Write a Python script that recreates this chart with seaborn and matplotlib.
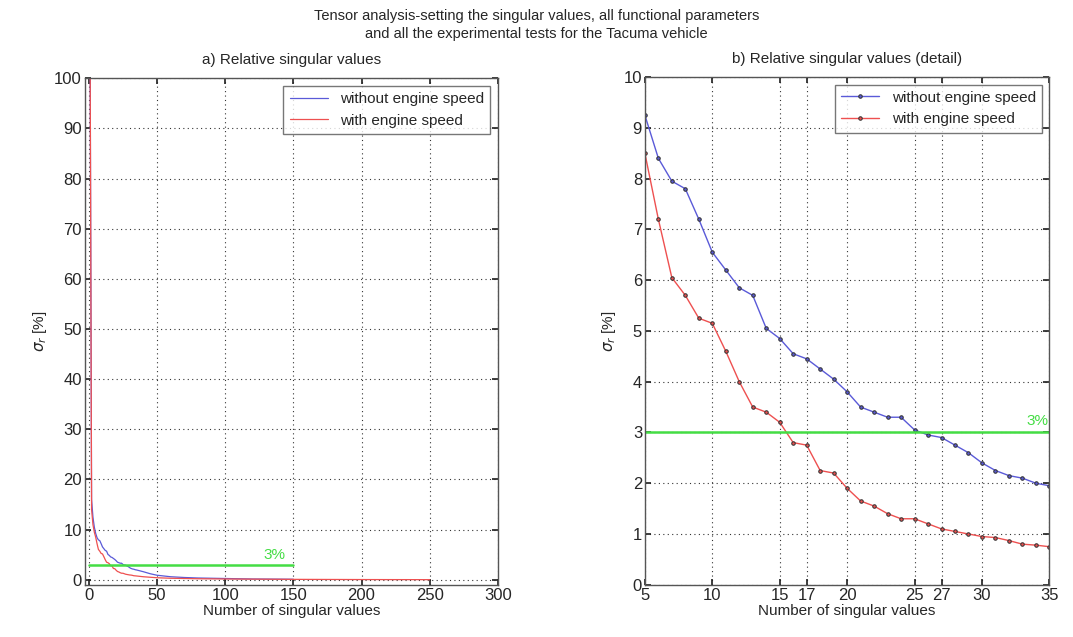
import numpy as np
import pandas as pd
import matplotlib
matplotlib.use("Agg")
import matplotlib.pyplot as plt
import seaborn as sns

# singular value index (detail range)
idx_detail = list(range(5, 36))

# relative singular values [%]
without_speed = [9.25, 8.4, 7.95, 7.8, 7.2, 6.55, 6.2, 5.85, 5.7, 5.05,
                 4.85, 4.55, 4.45, 4.25, 4.05, 3.8, 3.5, 3.4, 3.3, 3.3,
                 3.05, 2.95, 2.9, 2.75, 2.6, 2.4, 2.25, 2.15, 2.1, 2.0, 1.95]
with_speed = [8.5, 7.2, 6.05, 5.7, 5.25, 5.15, 4.6, 4.0, 3.5, 3.4,
              3.2, 2.8, 2.75, 2.25, 2.2, 1.9, 1.65, 1.55, 1.4, 1.3,
              1.3, 1.2, 1.1, 1.05, 1.0, 0.95, 0.93, 0.87, 0.8, 0.78, 0.75]

# head and tail of the full curves (panel a)
head_idx = [1, 2, 3, 4]
without_head = [100, 16.0, 12.5, 10.5]
with_head = [100, 14.0, 11.0, 9.5]
without_tail_idx = [40, 45, 50, 60, 70, 80, 100, 120, 150]
without_tail = [1.6, 1.2, 0.9, 0.6, 0.45, 0.35, 0.25, 0.15, 0.1]
with_tail_idx = [40, 50, 60, 80, 100, 150, 200, 250]
with_tail = [0.6, 0.4, 0.3, 0.2, 0.15, 0.08, 0.04, 0.02]

threshold = 3
detail_ticks = [5, 10, 15, 17, 20, 25, 27, 30, 35]

full_without = pd.DataFrame({
    "n": head_idx + idx_detail + without_tail_idx,
    "sigma": without_head + without_speed + without_tail,
})
full_with = pd.DataFrame({
    "n": head_idx + idx_detail + with_tail_idx,
    "sigma": with_head + with_speed + with_tail,
})
detail = pd.DataFrame({
    "n": idx_detail * 2,
    "sigma": without_speed + with_speed,
    "case": ["without engine speed"] * len(idx_detail)
    + ["with engine speed"] * len(idx_detail),
})

sns.set_theme(style="ticks")
plt.rcParams["font.family"] = ["Liberation Sans", "DejaVu Sans"]

blue = "#5a5ad8"
red = "#ee5050"
green = "#44dd44"

fig = plt.figure(figsize=(10.73, 6.37), dpi=100)
ax1 = fig.add_axes([0.079, 0.082, 0.385, 0.795])
ax2 = fig.add_axes([0.601, 0.082, 0.377, 0.797])

fig.text(0.5, 0.975, "Tensor analysis-setting the singular values, all functional parameters",
         ha="center", va="center", fontsize=10.5)
fig.text(0.5, 0.947, "and all the experimental tests for the Tacuma vehicle",
         ha="center", va="center", fontsize=10.5)

# panel a
sns.lineplot(data=full_without, x="n", y="sigma", ax=ax1, color=blue,
             linewidth=0.9, label="without engine speed")
sns.lineplot(data=full_with, x="n", y="sigma", ax=ax1, color=red,
             linewidth=0.9, label="with engine speed")
ax1.plot([0, 150], [threshold, threshold], color=green, linewidth=1.8)
ax1.text(128, threshold + 1.2, "3%", color=green, fontsize=11)
ax1.set_xlim(-3, 300)
ax1.set_ylim(-1, 100)
ax1.set_xticks(range(0, 301, 50))
ax1.set_yticks(range(0, 101, 10))
ax1.set_title("a) Relative singular values", fontsize=11, pad=10)
ax1.legend(loc="upper right", fontsize=11, frameon=True, fancybox=False,
           edgecolor="#555555", borderaxespad=0.5, handlelength=2.5)

# panel b
sns.lineplot(data=detail, x="n", y="sigma", hue="case", ax=ax2,
             palette={"without engine speed": blue, "with engine speed": red},
             marker="o", markersize=2.5, markeredgecolor="#333333",
             linewidth=1.0)
ax2.axhline(threshold, color=green, linewidth=1.8)
ax2.text(33.3, threshold + 0.15, "3%", color=green, fontsize=11)
ax2.set_xlim(5, 35)
ax2.set_ylim(0, 10)
ax2.set_xticks(detail_ticks)
ax2.set_yticks(range(0, 11))
ax2.set_title("b) Relative singular values (detail)", fontsize=11, pad=10)
ax2.legend(loc="upper right", fontsize=11, frameon=True, fancybox=False,
           edgecolor="#555555", borderaxespad=0.5, handlelength=2.5,
           title=None)

for ax in (ax1, ax2):
    ax.grid(True, color="#333333", linestyle=(0, (1, 3)), linewidth=0.8)
    ax.set_xlabel("Number of singular values", fontsize=11, labelpad=1)
    ax.set_ylabel(r"$\sigma_r$ [%]", fontsize=11)
    ax.tick_params(labelsize=12, direction="in", length=4, pad=2,
                   top=True, right=True)
    for s in ax.spines.values():
        s.set_color("#555555")
        s.set_linewidth(1.0)

fig.savefig("out.png", dpi=100, facecolor="white")
